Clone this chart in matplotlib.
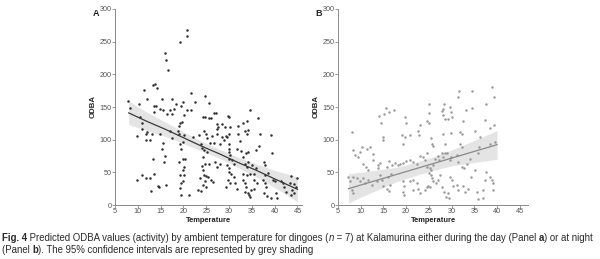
import matplotlib
matplotlib.use("Agg")
import matplotlib.pyplot as plt

# Panel A - day
day_temp = [20.8, 20.8, 19.3, 15.9, 16.1, 16.7, 21.7, 13.8, 13.4, 14.2, 11.3, 12.1, 15.3, 17.6, 7.9, 10.3,
            8.3, 13.9, 13.6, 18.3, 19.8, 19.5, 22.6, 24.8, 25.7, 14.9, 15.6, 17.1, 18.0, 13.6, 16.5, 17.4,
            21.7, 20.8, 20.2, 24.4, 24.8, 25.7, 26.0, 26.8, 27.2, 29.8, 30.0, 28.5, 27.4, 27.5, 32.0, 33.1,
            34.0, 34.5, 36.3, 30.2, 29.2, 19.3, 19.7, 19.1, 10.5, 10.9,
            11.0, 9.9, 11.8, 12.1, 11.7, 12.7, 13.1, 14.9, 15.5, 15.3, 16.0, 15.8, 17.1, 17.5, 18.8, 19.1,
            20.2, 19.9, 19.3, 19.5, 20.0, 20.4, 19.0, 20.2, 20.0, 19.3, 19.4, 19.2, 19.5, 20.1, 20.0, 21.3,
            13.4, 13.6, 11.0, 11.9, 12.7, 9.9, 12.9, 14.5, 14.6, 16.1, 22.0, 23.5, 23.8, 24.5, 24.9, 24.1,
            24.6, 25.1, 25.8, 25.2, 26.2, 26.8, 27.4, 27.3, 24.4, 24.8, 25.6, 24.1, 24.2, 24.5, 24.9, 25.3,
            23.6, 24.7, 24.2, 25.0, 26.0, 26.4, 23.8, 23.1, 27.0, 27.4, 28.1, 28.0, 28.5, 29.0, 30.0, 29.4,
            29.6, 29.9, 30.0, 29.9, 30.3, 29.9, 30.6, 31.0, 29.5, 30.0, 30.0, 30.5, 31.2, 29.7, 30.3, 31.3,
            29.4, 31.7, 32.0, 32.3, 31.7, 33.5, 34.0, 34.2, 32.6, 33.1, 33.7, 34.1, 33.4, 33.9, 34.2, 33.1,
            34.0, 34.7, 33.0, 33.4, 33.8, 34.1, 34.4, 34.7, 33.6, 35.9, 36.6, 36.8, 35.1, 36.0, 35.5, 35.5,
            36.1, 34.8, 35.4, 37.6, 37.9, 38.5, 37.9, 37.5, 37.8, 38.1, 37.6, 38.3, 39.4, 39.3, 39.6, 40.0,
            39.1, 40.5, 40.2, 42.1, 42.6, 43.5, 43.3, 44.2, 44.9, 43.9, 44.2, 43.6, 44.6, 41.3, 41.9]
day_odba = [268, 259, 249, 232, 222, 207, 172, 185, 184, 179, 176, 162, 162, 162, 159, 155,
            148, 151, 151, 154, 158, 151, 157, 167, 156, 147, 145, 145, 147, 143, 140, 140,
            146, 145, 138, 135, 135, 133, 133, 141, 141, 136, 135, 124, 124, 120, 121, 125,
            129, 145, 133, 120, 119, 125, 127, 121, 135, 126,
            117, 105, 108, 111, 99, 100, 108, 108, 95, 86, 75, 66, 113, 103, 114, 108,
            107, 96, 94, 85, 71, 70, 66, 58, 53, 46, 33, 26, 16, 46, 36, 15,
            71, 48, 46, 42, 42, 38, 21, 29, 27, 30, 104, 107, 94, 113, 109, 88,
            84, 81, 95, 103, 105, 95, 116, 108, 74, 63, 63, 59, 54, 46, 44, 43,
            41, 37, 30, 27, 39, 35, 22, 23, 66, 58, 63, 93, 104, 100, 109, 106,
            104, 94, 86, 81, 76, 71, 69, 63, 61, 56, 51, 48, 43, 38, 34, 33,
            28, 24, 109, 98, 86, 113, 109, 115, 83, 74, 80, 81, 63, 58, 66, 48,
            46, 48, 38, 34, 27, 19, 15, 12, 20, 84, 91, 109, 61, 56, 48, 39,
            33, 23, 25, 66, 61, 49, 46, 38, 33, 28, 18, 14, 79, 107, 39, 36,
            10, 10, 19, 27, 20, 44, 33, 32, 42, 23, 18, 15, 28, 36, 34]

# Panel B - night
night_temp = [38.9, 39.4, 31.5, 31.7, 34.4, 37.6, 34.4, 33.1, 25.0, 28.3, 28.0, 27.9, 28.2, 28.6, 29.1, 29.6,
              29.8, 30.0, 32.4, 25.0, 24.6, 25.0, 19.8, 20.0, 23.1, 15.6, 16.3, 17.4, 15.1, 14.1, 14.5, 37.3,
              39.3, 38.4,
              15.0, 14.9, 8.1, 19.0, 19.8, 19.3, 20.9, 22.8, 22.7, 25.4, 25.6, 26.0, 24.5, 23.8, 28.2, 28.6,
              29.9, 31.8, 32.2, 31.9, 32.3, 35.1, 36.2, 38.4, 39.5, 8.4, 9.9, 9.5, 8.8, 10.3, 11.4, 12.1,
              12.8, 12.8, 13.8, 13.7, 14.3, 10.6, 11.2, 11.7, 15.7, 16.3, 16.8, 17.6, 18.1, 18.7, 19.4, 20.0,
              20.9, 21.5, 22.3, 23.1, 24.1, 24.5, 25.3, 25.5, 25.9, 26.4, 27.1, 27.3, 27.8, 28.2, 28.5, 28.9,
              29.6, 29.9, 31.1, 31.5, 32.2, 32.7, 33.3, 34.0, 35.1, 35.9, 36.1, 7.3, 7.7, 8.4, 9.2, 8.1,
              8.4, 9.9, 10.6, 11.0, 11.5, 12.5, 13.6, 14.3, 14.7, 15.0, 15.7, 16.5, 16.3, 16.1, 16.6, 19.3,
              19.6, 19.3, 19.6, 20.9, 21.6, 22.3, 21.5, 22.7, 23.1, 24.1, 24.5, 25.1, 25.4, 25.6, 25.8, 24.8,
              25.2, 26.6, 27.1, 27.4, 27.8, 28.3, 28.8, 29.3, 29.5, 29.6, 30.0, 30.4, 31.1, 31.5, 32.6, 33.0,
              33.7, 34.2, 35.5, 35.9, 37.0, 37.3, 37.5, 36.8, 38.8, 39.2, 39.0, 38.4]
night_odba = [181, 166, 165, 174, 174, 154, 149, 145, 155, 155, 147, 144, 137, 132, 132, 150,
              143, 134, 128, 141, 128, 126, 135, 126, 123, 149, 143, 146, 139, 136, 125, 130,
              122, 118,
              104, 99, 112, 107, 104, 94, 107, 107, 113, 103, 94, 90, 79, 74, 109, 94,
              110, 112, 108, 94, 89, 113, 104, 94, 97, 84, 81, 74, 76, 89, 85, 89,
              78, 69, 61, 56, 64, 63, 58, 53, 58, 68, 61, 64, 61, 63, 64, 68,
              69, 66, 63, 75, 69, 58, 56, 53, 61, 70, 75, 69, 80, 74, 80, 79,
              69, 74, 76, 66, 58, 56, 63, 71, 53, 79, 89, 43, 37, 43, 41, 23,
              18, 36, 41, 34, 38, 30, 36, 46, 39, 29, 25, 30, 21, 43, 47, 37,
              29, 20, 15, 36, 39, 33, 23, 25, 18, 23, 27, 49, 46, 41, 37, 29,
              27, 33, 38, 46, 27, 20, 13, 18, 10, 43, 38, 29, 30, 23, 29, 20,
              25, 43, 20, 9, 10, 38, 51, 23, 38, 34, 23, 43]

# fitted lines and 95% CI
fit_a_temp = [8, 12, 16, 20, 24, 28, 32, 36, 40, 45]
fit_a_mid = [141, 128, 116, 103, 90, 78, 65, 53, 40, 24]
fit_a_lo = [123, 114, 105, 94, 82.5, 71, 57, 43, 27, 5]
fit_a_hi = [159, 142, 127, 112, 97.5, 85, 73, 63, 53, 43]

fit_b_temp = [7.3, 10, 14, 18, 22, 26, 30, 34, 38, 40]
fit_b_mid = [25, 30.6, 38.8, 47, 55.3, 63.5, 71.8, 80, 88.2, 92.4]
fit_b_lo = [3, 12, 24, 36, 45, 53, 60, 64, 68, 70]
fit_b_hi = [48, 50, 54, 58, 65, 74, 84, 96, 108, 114]

xticks = [5, 10, 15, 20, 25, 30, 35, 40, 45]
yticks = [0, 50, 100, 150, 200, 250, 300]

plt.rcParams['font.family'] = ['Liberation Sans', 'DejaVu Sans']

W, H = 600, 259
fig = plt.figure(figsize=(6, 2.59), dpi=100)


def panel(rect, xmax, tx, ty, fx, fmid, flo, fhi, dot_col, line_col, letter):
    ax = fig.add_axes(rect)
    ax.fill_between(fx, flo, fhi, color='#e4e4e4', lw=0, zorder=1)
    ax.scatter(tx, ty, s=3.2, color=dot_col, lw=0, zorder=2)
    ax.plot(fx, fmid, color=line_col, lw=0.9, zorder=3)
    ax.set_xlim(5, xmax)
    ax.set_ylim(0, 300)
    ax.set_xticks(xticks)
    ax.set_yticks(yticks)
    for s in ['top', 'right']:
        ax.spines[s].set_visible(False)
    for s in ['left', 'bottom']:
        ax.spines[s].set_color('#8a8a8a')
        ax.spines[s].set_linewidth(0.7)
    ax.tick_params(labelsize=5.2, colors='#8a8a8a', labelcolor='#555555',
                   length=2, width=0.6, pad=0.5)
    ax.set_xlabel('Temperature', fontsize=5.4, fontweight='bold', color='#222222', labelpad=1)
    ax.set_ylabel('ODBA', fontsize=5.6, fontweight='bold', color='#222222', labelpad=2)
    ax.text(-0.12, 1.0, letter, transform=ax.transAxes, fontsize=6.5,
            fontweight='bold', color='#222222', va='top', ha='left')
    return ax


panel([115 / W, 54 / H, 187 / W, 196 / H], 46, day_temp, day_odba,
      fit_a_temp, fit_a_mid, fit_a_lo, fit_a_hi, '#2e2e2e', '#3a3a3a', 'A')
panel([338 / W, 54 / H, 190 / W, 196 / H], 46.8, night_temp, night_odba,
      fit_b_temp, fit_b_mid, fit_b_lo, fit_b_hi, '#9a9a9a', '#8a8a8a', 'B')

# caption with mixed styles
renderer = fig.canvas.get_renderer()


def runs(x, y, parts, size=6.9):
    for s, weight, style in parts:
        t = fig.text(x / W, 1 - y / H, s, fontsize=size, fontweight=weight,
                     fontstyle=style, color='#2a2a2a', va='center', ha='left')
        x += t.get_window_extent(renderer).width


runs(2, 238, [('Fig. 4', 'bold', 'normal'),
              (' Predicted ODBA values (activity) by ambient temperature for dingoes (', 'normal', 'normal'),
              ('n', 'normal', 'italic'),
              (' = 7) at Kalamurina either during the day (Panel ', 'normal', 'normal'),
              ('a', 'bold', 'normal'),
              (') or at night', 'normal', 'normal')])
runs(2, 250, [('(Panel ', 'normal', 'normal'),
              ('b', 'bold', 'normal'),
              ('). The 95% confidence intervals are represented by grey shading', 'normal', 'normal')])

fig.savefig('out.png', dpi=100)
